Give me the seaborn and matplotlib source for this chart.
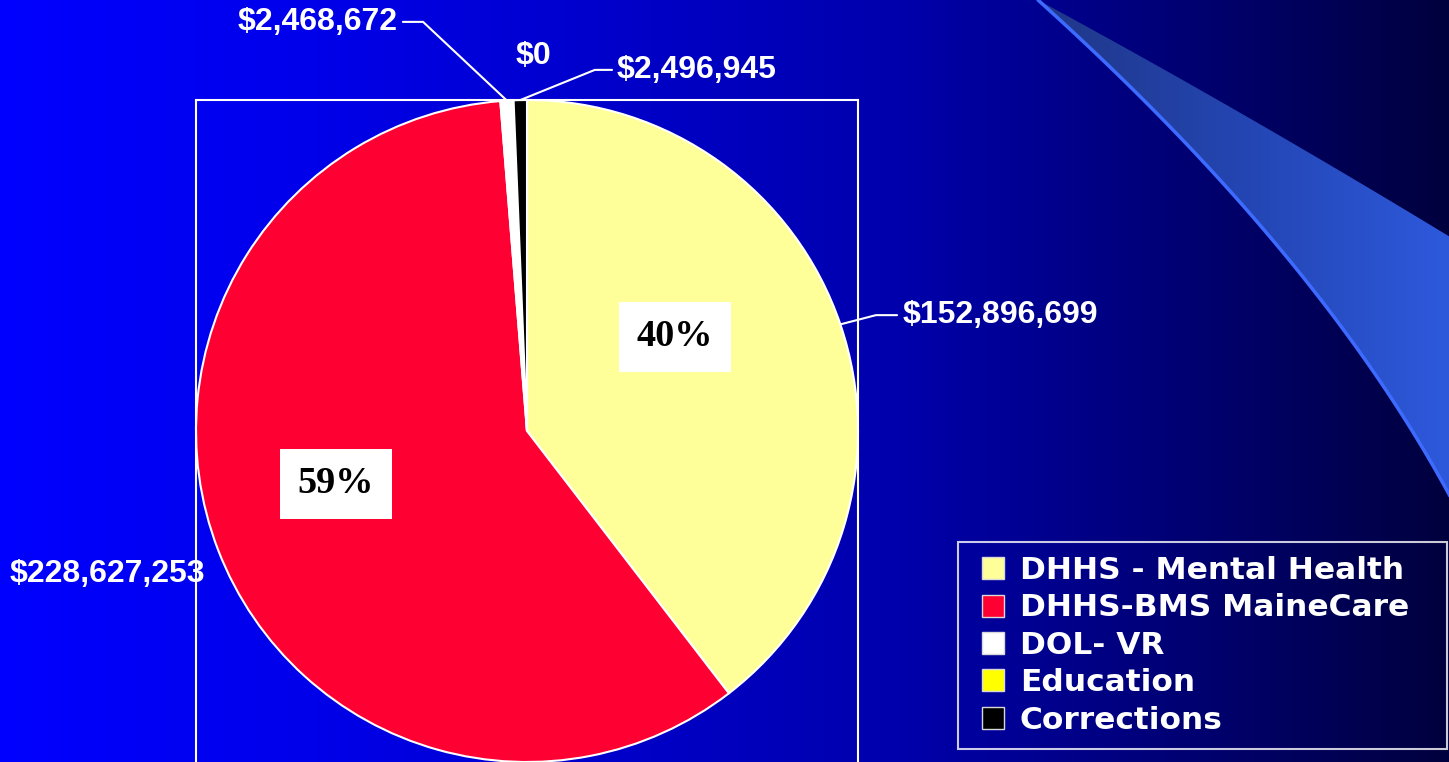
import numpy as np
import matplotlib
matplotlib.use("Agg")
import matplotlib.pyplot as plt
import seaborn as sns
from matplotlib.patches import Polygon
from matplotlib.lines import Line2D

# ---- data ----
categories = ["DHHS - Mental Health", "DHHS-BMS MaineCare", "DOL- VR", "Education", "Corrections"]
values = [152896699, 228627253, 2468672, 0, 2496945]
colors = ["#FFFF99", "#FF0033", "#FFFFFF", "#FFFF00", "#000000"]

sns.set_theme(style="white")
plt.rcParams['font.family'] = ['Liberation Sans', 'DejaVu Sans']

W, H = 1449, 762
fig = plt.figure(figsize=(W / 100, H / 100), dpi=100)

# ---- background gradient + swoosh (decoration) ----
bg = fig.add_axes([0, 0, 1, 1], zorder=-10)
xs = np.linspace(0, W, 800)
blue = np.interp(xs, [0, 300, 900, 1449], [255, 235, 172, 62]) / 255
grad = np.zeros((2, len(xs), 3))
grad[..., 2] = blue
bg.imshow(grad, extent=[0, W, H, 0], aspect='auto', zorder=0)


def bezier(p0, p1, p2, n=80):
    t = np.linspace(0, 1, n)[:, None]
    return (1 - t) ** 2 * np.array(p0) + 2 * (1 - t) * t * np.array(p1) + t ** 2 * np.array(p2)


upper = bezier((1038, 0), (1245, 112), (1460, 243))
lower = bezier((1038, 0), (1329, 262), (1460, 515))
sw_pts = np.vstack([upper, lower[::-1]])
sw = Polygon(sw_pts, closed=True, facecolor='none', edgecolor='none')
bg.add_patch(sw)
sx = np.linspace(0, 1, 400)
sgrad = np.zeros((2, len(sx), 3))
sgrad[..., 0] = np.interp(sx, [0, 0.5, 1], [32, 36, 46]) / 255
sgrad[..., 1] = np.interp(sx, [0, 0.5, 1], [55, 70, 90]) / 255
sgrad[..., 2] = np.interp(sx, [0, 0.5, 1], [135, 180, 222]) / 255
im = bg.imshow(sgrad, extent=[1038, 1460, 520, 0], aspect='auto', zorder=1)
im.set_clip_path(sw)
bg.plot(lower[:, 0], lower[:, 1], color='#3D6BFF', lw=2.5, zorder=2)
bg.set_xlim(0, W)
bg.set_ylim(H, 0)
bg.axis('off')

# ---- pie ----
ax = fig.add_axes([196 / W, 0, 662 / W, 662 / H])
ax.patch.set_alpha(0)
wedges, _ = ax.pie(values, colors=colors, startangle=90, counterclock=False, radius=1,
                   wedgeprops=dict(edgecolor='white', linewidth=1.5))
ax.set_xlim(-1, 1)
ax.set_ylim(-1, 1)
ax.set_frame_on(True)
for name, sp in ax.spines.items():
    sp.set_color('white')
    sp.set_linewidth(1.5)
    sp.set_visible(name != 'bottom')
ax.set_xticks([])
ax.set_yticks([])

total = sum(values)
value_labels = ["${:,}".format(v) for v in values]

# percent labels (layout positions only)
pct_pos = {0: (0.447, 0.284), 1: (-0.577, -0.160)}
for i, (px, py) in pct_pos.items():
    ax.text(px, py, "{:.0f}%".format(values[i] / total * 100), ha='center', va='center',
            fontsize=27.5, fontweight='bold', family='Liberation Serif', color='black',
            bbox=dict(boxstyle='square,pad=0.47', facecolor='white', edgecolor='none'))

# value labels: (text x, text y, ha, elbow x, end x) ; None = no leader
val_layout = {
    0: (1.136, 0.350, 'left', 1.054, 1.118),
    1: (-1.562, -0.433, 'left', None, None),
    2: (-0.390, 1.236, 'right', -0.314, -0.375),
    3: (0.018, 1.133, 'center', None, None),
    4: (0.272, 1.091, 'left', 0.205, 0.257),
}
for i, (tx, ty, ha, ex, endx) in val_layout.items():
    ax.text(tx, ty, value_labels[i], ha=ha, va='center', fontsize=23, fontweight='bold',
            color='white', family='Liberation Sans', clip_on=False)
    if ex is not None:
        w = wedges[i]
        mid = np.deg2rad((w.theta1 + w.theta2) / 2)
        sx0, sy0 = np.cos(mid), np.sin(mid)
        ax.plot([sx0, ex, endx], [sy0, ty, ty], color='white', lw=1.5, clip_on=False,
                solid_joinstyle='miter')

# ---- legend ----
handles = [Line2D([], [], marker='s', linestyle='none', markersize=16,
                  markerfacecolor=c, markeredgecolor='#D8D8D8', markeredgewidth=1)
           for c in colors]
leg = fig.legend(handles, categories, loc='upper left',
                 bbox_to_anchor=(958 / W, (H - 743) / H, 489 / W, 201 / H),
                 bbox_transform=fig.transFigure, mode='expand',
                 frameon=True, fancybox=False, borderaxespad=0, borderpad=0.45,
                 handlelength=1.35, handletextpad=0.18, labelspacing=0.27,
                 prop=dict(family='DejaVu Sans', weight='bold', size=22.5))
for t in leg.get_texts():
    t.set_color('white')
fr = leg.get_frame()
fr.set_facecolor('none')
fr.set_edgecolor('white')
fr.set_linewidth(1.5)

fig.savefig("out.png", dpi=100)
